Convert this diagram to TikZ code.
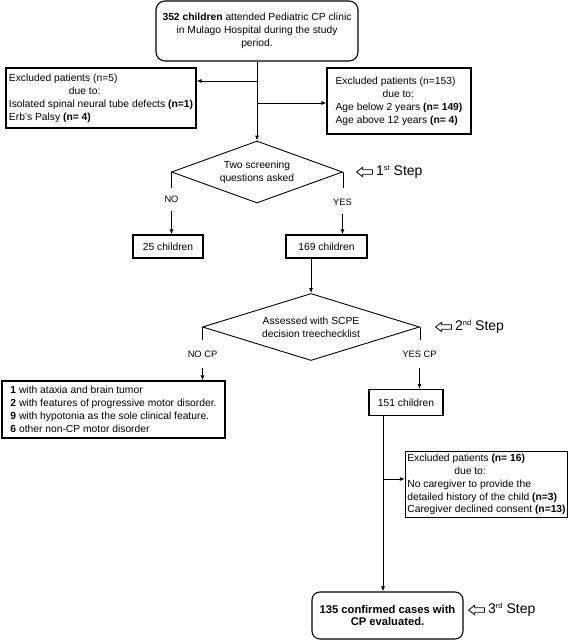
\documentclass[tikz,border=0pt]{standalone}
\usepackage{fontspec}
\setmainfont{Liberation Sans}
\usetikzlibrary{shapes.geometric,shapes.arrows,arrows.meta}
\newcommand{\stepsup}[1]{\raisebox{0.7ex}{\fontsize{7.5}{8}\selectfont #1}}

\begin{document}
\begin{tikzpicture}[x=1pt,y=1pt,font=\fontsize{10.3}{12.9}\selectfont]

% Styles
\tikzset{
  box/.style={rectangle, draw=black, line width=1.1pt, inner sep=2pt, align=left},
  roundbox/.style={box, rounded corners=9pt, align=center},
  decision/.style={diamond, draw=black, line width=0.9pt, inner sep=0pt, align=center},
  arrow/.style={line width=0.9pt, -{Latex[length=5pt,width=4pt]}},
  line/.style={line width=0.9pt},
  hollow/.style={single arrow, draw=black, line width=0.8pt, shape border rotate=180,
    minimum height=16pt, inner sep=1.8pt, single arrow head extend=2.6pt, single arrow tip angle=75},
  steplabel/.style={font=\fontsize{14}{16}\selectfont, inner sep=0pt, anchor=west},
  branch/.style={font=\fontsize{9.3}{11}\selectfont, inner sep=1pt}
}

\useasboundingbox (0,0) rectangle (568,-640);

% Start box
\node[roundbox, minimum width=202pt, minimum height=60pt] (start) at (257,-31) {\textbf{352 children} attended Pediatric CP clinic\\in Mulago Hospital during the study\\period.};

% Exclusions before screening
\node[box, minimum width=190pt, minimum height=60pt] (exA) at (101,-98) {Excluded patients (n=5)\\\hspace*{60pt}due to:\\Isolated spinal neural tube defects \textbf{(n=1)}\\Erb's Palsy \textbf{(n= 4)}};
\node[box, minimum width=144pt, minimum height=66pt] (exB) at (399,-101) {Excluded patients (n=153)\\\hspace*{47pt}due to:\\Age below 2 years \textbf{(n= 149)}\\Age above 12 years \textbf{(n= 4)}};
\coordinate (j1) at (257,-81);
\coordinate (j2) at (257,-103);

% First step
\node[decision, minimum width=171pt, minimum height=62pt, aspect=2.75] (screen) at (257,-172) {Two screening\\questions asked};
\node[hollow] (arrA) at (366,-172) {};
\node[steplabel] (stepA) at (376,-172) {1\stepsup{st} Step};
\node[branch] (no) at (171.5,-199) {NO};
\node[branch] (yes) at (342.5,-202) {YES};
\node[box, minimum width=70pt, minimum height=23pt] (n25) at (168,-246.5) {25 children};
\node[box, minimum width=81pt, minimum height=23pt] (n169) at (326.5,-246.5) {169 children};

% Second step
\node[decision, minimum width=217pt, minimum height=67pt, aspect=3.24] (assess) at (311,-327) {Assessed with SCPE\\decision treechecklist};
\node[hollow] (arrB) at (445,-327) {};
\node[steplabel] (stepB) at (455,-327) {2\stepsup{nd} Step};
\node[branch] (nocp) at (202.5,-354) {NO CP};
\node[branch] (yescp) at (419.5,-354) {YES CP};
\node[box, minimum width=223pt, minimum height=57pt] (nocpbox) at (113.5,-409.5) {\textbf{1} with ataxia and brain tumor\\\textbf{2} with features of progressive motor disorder.\\\textbf{9} with hypotonia as the sole clinical feature.\\\textbf{6} other non-CP motor disorder};
\node[box, minimum width=74pt, minimum height=26pt] (n151) at (406,-402.5) {151 children};

% Exclusions before third step
\node[box, minimum width=161pt, minimum height=65pt] (exC) at (486.5,-484.5) {Excluded patients \textbf{(n= 16)}\\\hspace*{47pt}due to:\\No caregiver to provide the\\detailed history of the child \textbf{(n=3)}\\Caregiver declined consent \textbf{(n=13)}};
\coordinate (j3) at (383,-479);

% Third step
\node[roundbox, minimum width=151pt, minimum height=47pt, rounded corners=8pt] (final) at (387.5,-615.5) {\fontsize{11.2}{14}\selectfont\bfseries 135 confirmed cases with\\\fontsize{11.2}{14}\selectfont\bfseries CP evaluated.};
\node[hollow] (arrC) at (478,-610) {};
\node[steplabel] (stepC) at (488,-610) {3\stepsup{rd} Step};

% Connectors
\draw[arrow] (start.south) -- (screen.north);
\draw[arrow] (j1) -- (j1 -| exA.east);
\draw[arrow] (j2) -- (j2 -| exB.west);
\draw[line] (screen.west) -- ++(0,-16);
\draw[arrow] (no.south) ++(0,-8) -- (no |- n25.north);
\draw[line] (screen.east) -- ++(0,-16);
\draw[arrow] (yes.south) ++(0,-8) -- (yes |- n169.north);
\draw[arrow] (n169.south -| assess.north) -- (assess.north);
\draw[line] (assess.west) -- ++(0,-13);
\draw[arrow] (nocp.south) ++(0,-10) -- (nocp |- nocpbox.north);
\draw[line] (assess.east) -- ++(0,-13);
\draw[arrow] (yescp.south) ++(0,-10) -- (yescp |- n151.north);
\draw[arrow] (j3 |- n151.south) -- (j3 |- final.north);
\draw[arrow] (j3) -- (j3 -| exC.west);

\end{tikzpicture}
\end{document}
